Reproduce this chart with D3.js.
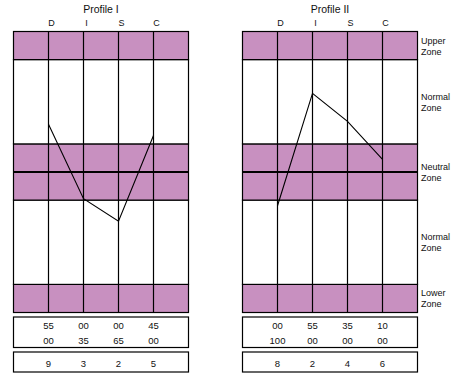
<!DOCTYPE html>
<html>
<head>
<meta charset="utf-8">
<script src="https://cdn.jsdelivr.net/npm/d3@7"></script>
<style>
  body { margin: 0; background: #fff; }
  svg { display: block; font-family: "Liberation Sans", Arial, sans-serif; }
</style>
</head>
<body>
<svg id="chart" width="462" height="388"></svg>
<script>
// DISC profile data
const factors = ["D", "I", "S", "C"];
const profileNames = ["Profile I", "Profile II"];
const profileValues = [
  [3.4, -1.9, -3.5, 2.6],
  [-2.4, 5.6, 3.6, 0.9]
];
const tableRowA = [["55", "00", "00", "45"], ["00", "55", "35", "10"]];
const tableRowB = [["00", "35", "65", "00"], ["100", "00", "00", "00"]];
const tableScores = [["9", "3", "2", "5"], ["8", "2", "4", "6"]];

// zones, bottom to top, in value units
const zones = [
  { lines: ["Lower", "Zone"], from: -10, to: -8, shaded: true },
  { lines: ["Normal", "Zone"], from: -8, to: -2, shaded: false },
  { lines: ["Neutral", "Zone"], from: -2, to: 2, shaded: true },
  { lines: ["Normal", "Zone"], from: 2, to: 8, shaded: false },
  { lines: ["Upper", "Zone"], from: 8, to: 10, shaded: true }
];

const purple = "#c890c0";
const ink = "#111";
const svg = d3.select("#chart");

const panelW = 175;
const panelX = [13.5, 242.5];

// vertical value scale
const y = d3.scaleLinear().domain([-10, 10]).range([312.5, 31.5]);

profileNames.forEach(function(name, p) {
  const x0 = panelX[p];
  // column index scale: 0..5 -> panel edges, factor lines at 1..4
  const x = d3.scaleLinear().domain([0, 5]).range([x0, x0 + panelW]);
  const g = svg.append("g");

  // zone bands
  g.selectAll("rect.zone").data(zones).enter().append("rect")
    .attr("class", "zone")
    .attr("x", x(0)).attr("width", panelW)
    .attr("y", function(d) { return y(d.to); })
    .attr("height", function(d) { return y(d.from) - y(d.to); })
    .attr("fill", function(d) { return d.shaded ? purple : "#fff"; })
    .attr("stroke", "#000").attr("stroke-width", 1.2);

  // vertical factor lines
  g.selectAll("line.factor").data(factors).enter().append("line")
    .attr("x1", function(d, i) { return x(i + 1); })
    .attr("x2", function(d, i) { return x(i + 1); })
    .attr("y1", y(10)).attr("y2", y(-10))
    .attr("stroke", "#000").attr("stroke-width", 1.2);

  // thick mid line
  g.append("line")
    .attr("x1", x(0)).attr("x2", x(5))
    .attr("y1", y(0)).attr("y2", y(0))
    .attr("stroke", "#000").attr("stroke-width", 2);

  // title and factor letters
  g.append("text").text(name)
    .attr("x", x(2.5)).attr("y", 12.5)
    .attr("text-anchor", "middle").attr("font-size", 10.5).attr("fill", ink);
  g.selectAll("text.letter").data(factors).enter().append("text")
    .text(function(d) { return d; })
    .attr("x", function(d, i) { return x(i + 1) + 3; })
    .attr("y", 25.5)
    .attr("text-anchor", "middle").attr("font-size", 9).attr("fill", ink);

  // profile line
  const line = d3.line()
    .x(function(d, i) { return x(i + 1); })
    .y(function(d) { return y(d); });
  g.append("path").datum(profileValues[p])
    .attr("d", line)
    .attr("fill", "none").attr("stroke", "#000").attr("stroke-width", 1.1);

  // table boxes
  g.append("rect").attr("x", x(0)).attr("width", panelW)
    .attr("y", 317).attr("height", 30.5)
    .attr("fill", "none").attr("stroke", "#000").attr("stroke-width", 1.2);
  g.append("rect").attr("x", x(0)).attr("width", panelW)
    .attr("y", 352).attr("height", 20)
    .attr("fill", "none").attr("stroke", "#000").attr("stroke-width", 1.2);

  const rows = [
    { vals: tableRowA[p], yy: 328.5 },
    { vals: tableRowB[p], yy: 343.5 },
    { vals: tableScores[p], yy: 366.5 }
  ];
  rows.forEach(function(r) {
    g.selectAll(null).data(r.vals).enter().append("text")
      .text(function(d) { return d; })
      .attr("x", function(d, i) { return x(i + 1); })
      .attr("y", r.yy)
      .attr("text-anchor", "middle").attr("font-size", 9.5).attr("fill", ink);
  });
});

// zone labels at the right
const lab = svg.append("g");
zones.forEach(function(z) {
  const mid = y((z.from + z.to) / 2);
  z.lines.forEach(function(t, k) {
    lab.append("text").text(t)
      .attr("x", 421).attr("y", mid - 2 + k * 11)
      .attr("font-size", 9).attr("fill", ink);
  });
});
</script>
</body>
</html>
